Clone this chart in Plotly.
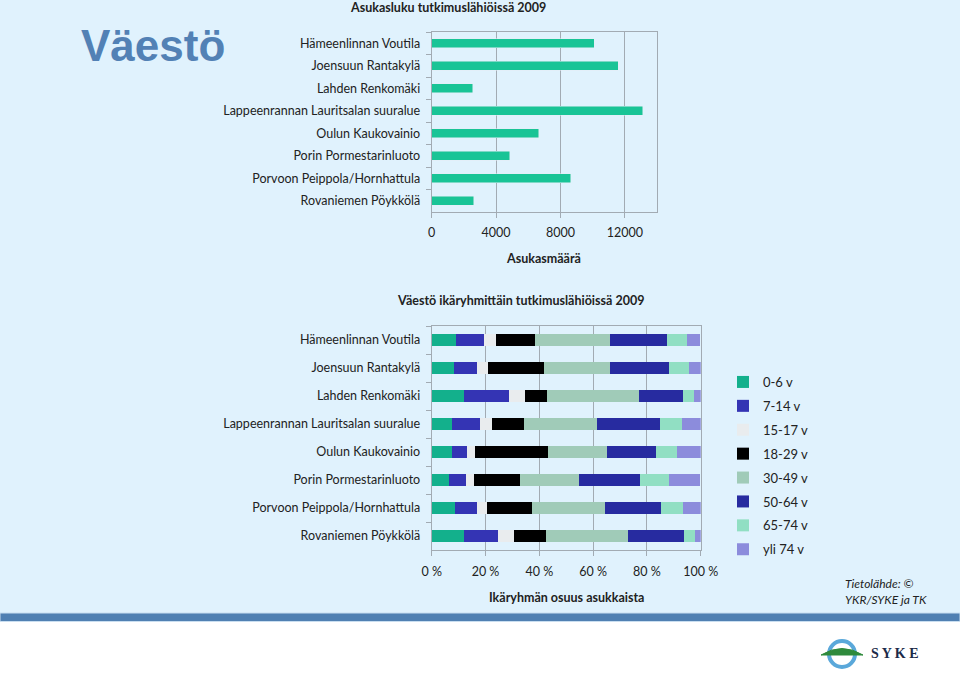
import plotly.graph_objects as go

W, H = 960, 674

# data
areas = [
    "Hämeenlinnan Voutila",
    "Joensuun Rantakylä",
    "Lahden Renkomäki",
    "Lappeenrannan Lauritsalan suuralue",
    "Oulun Kaukovainio",
    "Porin Pormestarinluoto",
    "Porvoon Peippola/Hornhattula",
    "Rovaniemen Pöykkölä",
]
residents = [10100, 11600, 2550, 13100, 6650, 4850, 8650, 2600]

age_groups = ["0-6 v", "7-14 v", "15-17 v", "18-29 v", "30-49 v", "50-64 v", "65-74 v", "yli 74 v"]
# share (%) of each age group, one list per age group, in the order of areas
age_0_6 = [9.0, 8.2, 12.0, 7.6, 7.6, 6.3, 8.6, 11.9]
age_7_14 = [10.5, 8.8, 16.9, 10.3, 5.7, 6.4, 8.3, 12.6]
age_15_17 = [4.3, 3.8, 5.6, 4.5, 2.7, 2.9, 3.7, 6.1]
age_18_29 = [14.7, 21.1, 8.2, 11.8, 27.3, 17.3, 16.6, 12.0]
age_30_49 = [27.6, 24.4, 34.2, 27.3, 21.9, 21.9, 27.1, 30.4]
age_50_64 = [21.4, 21.9, 16.5, 23.2, 18.2, 22.6, 21.1, 20.8]
age_65_74 = [7.4, 7.6, 4.1, 8.4, 7.8, 10.9, 8.1, 4.0]
age_75_plus = [4.8, 4.2, 2.6, 7.1, 8.8, 11.6, 6.6, 2.2]
age_shares = [age_0_6, age_7_14, age_15_17, age_18_29, age_30_49, age_50_64, age_65_74, age_75_plus]

age_colors = ["#13b08c", "#3434b4", "#e9ecee", "#000000", "#a0cbb8", "#272ba0", "#91dfc3", "#8c8cdc"]

BG = "#e0f2fd"
GRID = "#a2abb3"
FONT = "Lato"


def px_x(x):
    return x / W


def px_y(y):
    return 1 - y / H


fig = go.Figure()

# upper chart: residents
fig.add_trace(go.Bar(
    x=residents, y=areas, orientation="h",
    marker_color="#19c496", showlegend=False,
    xaxis="x", yaxis="y",
))

# lower chart: age structure
for name, vals, col in zip(age_groups, age_shares, age_colors):
    fig.add_trace(go.Bar(
        x=vals, y=areas, orientation="h", name=name,
        marker_color=col, marker_line_width=0,
        xaxis="x2", yaxis="y2", legendgroup=name,
    ))

axis_common = dict(
    showline=True, mirror=True, linecolor=GRID, linewidth=1,
    ticks="outside", ticklen=5, tickcolor=GRID,
    tickfont=dict(family=FONT, size=12.5, color="#222222"),
    zeroline=False, automargin=False,
)

fig.update_layout(
    width=W, height=H,
    autosize=False,
    margin=dict(l=0, r=0, t=0, b=0, pad=0),
    paper_bgcolor="white",
    plot_bgcolor="rgba(0,0,0,0)",
    barmode="stack",
    font=dict(family=FONT, size=12.5, color="#222222"),
    xaxis=dict(
        domain=[px_x(431.7), px_x(657)], anchor="y",
        range=[0, 14000], tickvals=[0, 4000, 8000, 12000], tickformat="d",
        showgrid=True, gridcolor=GRID, ticklabelstandoff=4, **axis_common,
    ),
    yaxis=dict(
        domain=[px_y(212), px_y(32)], anchor="x",
        autorange="reversed", tickson="boundaries", showgrid=False,
        ticklabelstandoff=8,
        **axis_common,
    ),
    xaxis2=dict(
        domain=[px_x(431.7), px_x(700.7)], anchor="y2",
        range=[0, 100], dtick=20, ticksuffix=" %",
        showgrid=True, gridcolor=GRID, ticklabelstandoff=5, **axis_common,
    ),
    yaxis2=dict(
        domain=[px_y(550), px_y(326)], anchor="x2",
        autorange="reversed", tickson="boundaries", showgrid=False,
        ticklabelstandoff=8,
        **axis_common,
    ),
    bargap=0.6,
    legend=dict(
        x=px_x(723), y=px_y(367), xanchor="left", yanchor="top",
        bgcolor="rgba(0,0,0,0)", traceorder="grouped",
        tracegroupgap=4, font=dict(family=FONT, size=13, color="#222222"),
    ),
)

# background panels and bottom band
fig.add_shape(type="rect", xref="paper", yref="paper", x0=0, x1=1,
              y0=px_y(613), y1=1, fillcolor=BG, line_width=0, layer="below")
fig.add_shape(type="rect", xref="paper", yref="paper", x0=0, x1=1,
              y0=px_y(621.5), y1=px_y(613), fillcolor="#5080b2",
              line=dict(color="#c9def0", width=1), layer="below")

# SYKE logo
fig.add_shape(type="circle", xref="paper", yref="paper",
              x0=px_x(829), x1=px_x(855), y0=px_y(667), y1=px_y(641),
              line=dict(color="#5aa8da", width=4))
fig.add_shape(type="path", xref="paper", yref="paper",
              path=f"M {px_x(821)} {px_y(655)} Q {px_x(842)} {px_y(642)} {px_x(863)} {px_y(655)} Z",
              fillcolor="#2f8a3c", line=dict(color="#2f8a3c", width=1))

annotations = [
    dict(text="<b>Väestö</b>", x=px_x(79), y=px_y(45), xanchor="left", yanchor="middle",
         font=dict(family="Liberation Sans", size=44, color="#5281b5")),
    dict(text="<b>Asukasluku tutkimuslähiöissä 2009</b>", x=px_x(448), y=px_y(8),
         font=dict(size=12.5)),
    dict(text="<b>Asukasmäärä</b>", x=px_x(543), y=px_y(258), font=dict(size=12.5)),
    dict(text="<b>Väestö ikäryhmittäin tutkimuslähiöissä 2009</b>", x=px_x(520), y=px_y(301),
         font=dict(size=12.5)),
    dict(text="<b>Ikäryhmän osuus asukkaista</b>", x=px_x(566), y=px_y(597), font=dict(size=12.5)),
    dict(text="<i>Tietolähde: ©<br>YKR/SYKE ja TK</i>", x=px_x(929), y=px_y(591),
         xanchor="right", align="left", font=dict(size=12)),
    dict(text="<b>S Y K E</b>", x=px_x(869), y=px_y(653), xanchor="left",
         font=dict(family="Liberation Serif", size=14, color="#1c2a48")),
]
for a in annotations:
    a.setdefault("xanchor", "center")
    a.setdefault("yanchor", "middle")
    fig.add_annotation(xref="paper", yref="paper", showarrow=False, **a)

fig.write_html(
    "out.html",
    config={"responsive": False, "displayModeBar": False},
    post_script="document.body.style.margin='0';document.body.style.overflow='hidden';",
)
